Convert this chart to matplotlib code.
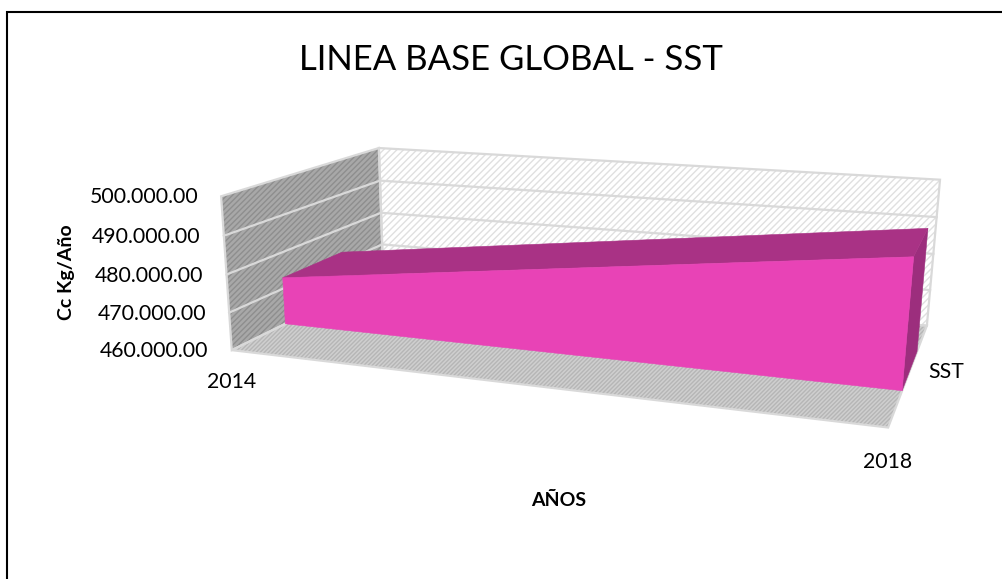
import numpy as np
import matplotlib
matplotlib.use("Agg")
import matplotlib.pyplot as plt
from matplotlib.patches import Polygon

plt.rcParams['font.family'] = ['Lato', 'DejaVu Sans']
plt.rcParams['hatch.linewidth'] = 1.0

title = "LINEA BASE GLOBAL - SST"
ylabel = "Cc Kg/Año"
xlabel = "AÑOS"
series_name = "SST"
years = [2014, 2018]
values = [473000, 492000]
yticks = [460000, 470000, 480000, 490000, 500000]
ytick_labels = ["460.000.00", "470.000.00", "480.000.00", "490.000.00", "500.000.00"]

Y0, Y1 = yticks[0], yticks[-1]
X0, X1 = years[0], years[-1]
D_FRONT, D_BACK = 0.31, 0.70   # depth range of the series inside the box

# Perspective camera of the 3-D box: unit-cube corners -> image position
cube = np.array([[0,1,0],[0,0,0],[0,1,1],[0,0,1],[1,1,1],[1,0,1],[1,0,0]], float)
image = np.array([[221,196],[232,350],[379,148],[383,276],[940,180],[927,325],[888,428]], float)
rows = []
for (a, b, c), (u, v) in zip(cube, image):
    rows.append([a, b, c, 1, 0, 0, 0, 0, -u*a, -u*b, -u*c, -u])
    rows.append([0, 0, 0, 0, a, b, c, 1, -v*a, -v*b, -v*c, -v])
P = np.linalg.svd(np.array(rows))[2][-1].reshape(3, 4)

def proj(year, value, depth):
    h = P @ np.array([(year-X0)/(X1-X0), (value-Y0)/(Y1-Y0), depth, 1.0])
    return h[0]/h[2], h[1]/h[2]

fig = plt.figure(figsize=(10.02, 5.79), dpi=100)
ax = fig.add_axes([0, 0, 1, 1])
ax.set_xlim(0, 1002); ax.set_ylim(579, 0); ax.axis('off')

# chart frame: only the top and left edges fall inside the picture
ax.plot([7.5, 7.5, 1002], [579, 11.5, 11.5], color='black', lw=1.5, solid_joinstyle='miter', zorder=0)

def face(pts, fc, hatch=None, hc=None, ec='none', lw=0, z=1):
    if hatch:
        ax.add_patch(Polygon(pts, closed=True, fc=fc, ec=hc, hatch=hatch, lw=0, zorder=z))
        if ec != 'none':
            ax.add_patch(Polygon(pts, closed=True, fc='none', ec=ec, lw=lw, zorder=z+0.1))
    else:
        ax.add_patch(Polygon(pts, closed=True, fc=fc, ec=ec if ec != 'none' else fc, lw=lw if lw else 0.4, zorder=z))

EDGE = '#d9d9d9'
# back wall, left wall, floor
face([proj(X0,Y0,1),proj(X1,Y0,1),proj(X1,Y1,1),proj(X0,Y1,1)], 'white', '/////', '#e0e0e0', EDGE, 1.6, 1)
face([proj(X0,Y0,0),proj(X0,Y0,1),proj(X0,Y1,1),proj(X0,Y1,0)], '#a8a8a8', '//////', '#8e8e8e', EDGE, 1.6, 1)
face([proj(X0,Y0,0),proj(X1,Y0,0),proj(X1,Y0,1),proj(X0,Y0,1)], '#cfcfcf', '////////', '#b6b6b6', EDGE, 1.6, 1)

for t in yticks[1:-1]:
    xs = [proj(X0,t,0), proj(X0,t,1), proj(X1,t,1)]
    ax.plot(*zip(*xs), color=EDGE, lw=1.6, zorder=2)

# series: right side, top, front
FRONT, TOP, SIDE = '#e843b6', '#a93285', '#9c2e7d'
v0, v1 = values
face([proj(X1,Y0,D_FRONT),proj(X1,Y0,D_BACK),proj(X1,v1,D_BACK),proj(X1,v1,D_FRONT)], SIDE, z=3)
face([proj(X0,v0,D_FRONT),proj(X1,v1,D_FRONT),proj(X1,v1,D_BACK),proj(X0,v0,D_BACK)], TOP, z=3)
face([proj(X0,Y0,D_FRONT),proj(X1,Y0,D_FRONT),proj(X1,v1,D_FRONT),proj(X0,v0,D_FRONT)], FRONT, z=4)

for t, lab in zip(yticks, ytick_labels):
    x, y = proj(X0, t, 0)
    ax.text(x-23, y+1, lab, ha='right', va='center', fontsize=15.3, color='black')

ax.text(232, 382, str(years[0]), ha='center', va='center', fontsize=15.3)
ax.text(887.5, 462, str(years[1]), ha='center', va='center', fontsize=15.3)
ax.text(946, 372, series_name, ha='center', va='center', fontsize=15.3)
ax.text(511, 60, title, ha='center', va='center', fontsize=25)
ax.text(559, 500, xlabel, ha='center', va='center', fontsize=14, fontweight='bold')
ax.text(67, 272, ylabel, ha='center', va='center', rotation=90, fontsize=14, fontweight='bold')

fig.savefig('out.png', dpi=100)
